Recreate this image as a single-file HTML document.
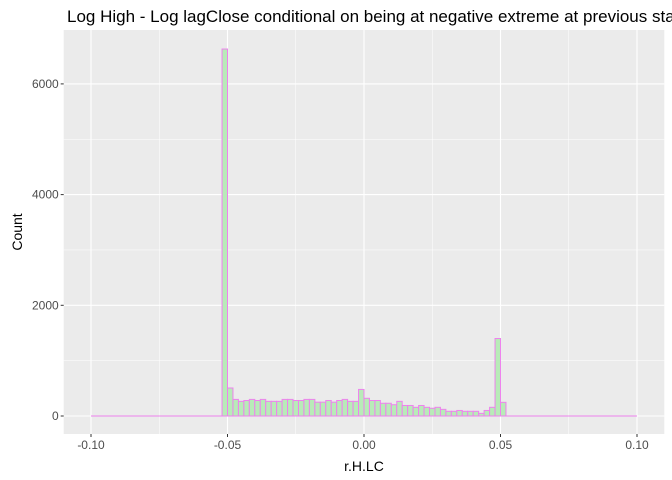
<!DOCTYPE html>
<html><head><meta charset="utf-8"><style>body{margin:0;background:#fff}svg{display:block}</style></head>
<body>
<svg id="c" width="672" height="480" xmlns="http://www.w3.org/2000/svg" font-family="Liberation Sans, sans-serif"></svg>
<script>
const binStart = -0.052;
const binWidth = 0.002;
const counts = [6630,506,300,265,280,300,280,300,265,265,265,300,300,280,280,300,300,250,250,280,250,280,300,265,265,480,
320,280,280,230,230,204,265,190,190,157,190,157,140,157,120,85,85,100,85,85,85,48,100,157,1400,247];
const xTicks = [-0.10,-0.05,0.00,0.05,0.10];
const xTickLabels = ["-0.10","-0.05","0.00","0.05","0.10"];
const xMinor = [-0.075,-0.025,0.025,0.075];
const yTicks = [0,2000,4000,6000];
const yMinor = [1000,3000,5000];
const xRange = [-0.1,0.1];

const svg=document.getElementById('c');
const NS='http://www.w3.org/2000/svg';
const P={l:63.7,r:664.3,t:30,b:434};
const xs=v=>91+(v-xRange[0])/(xRange[1]-xRange[0])*546;
const ys=v=>416-v*0.05535;
function mk(t,a,name){const e=document.createElementNS(NS,t);for(const k in a)e.setAttribute(k,a[k]);


svg.appendChild(e);return e;}
mk('rect',{x:P.l,y:P.t,width:P.r-P.l,height:P.b-P.t,fill:'#EBEBEB'},'panel-background');
xMinor.forEach(v=>mk('line',{x1:xs(v),x2:xs(v),y1:P.t,y2:P.b,stroke:'#fff','stroke-width':0.5},'x-minor-gridline'));
yMinor.forEach(v=>mk('line',{x1:P.l,x2:P.r,y1:ys(v),y2:ys(v),stroke:'#fff','stroke-width':0.5},'y-minor-gridline'));
xTicks.forEach(v=>mk('line',{x1:xs(v),x2:xs(v),y1:P.t,y2:P.b,stroke:'#fff','stroke-width':1.1},'x-major-gridline'));
yTicks.forEach(v=>mk('line',{x1:P.l,x2:P.r,y1:ys(v),y2:ys(v),stroke:'#fff','stroke-width':1.1},'y-major-gridline'));
mk('line',{x1:xs(xRange[0]),x2:xs(xRange[1]),y1:ys(0),y2:ys(0),stroke:'#EE82EE','stroke-width':1},'zero-baseline');
counts.forEach((c,i)=>{const x0=xs(binStart+i*binWidth),x1=xs(binStart+(i+1)*binWidth);
mk('rect',{x:x0,y:ys(c),width:x1-x0,height:ys(0)-ys(c),fill:'#B8EBB8',stroke:'#EE82EE','stroke-width':1},'histogram-bar');});
xTicks.forEach((v,i)=>{mk('line',{x1:xs(v),x2:xs(v),y1:P.b,y2:P.b+3,stroke:'#333','stroke-width':1},'x-tick');
const t=mk('text',{x:xs(v),y:P.b+15,'text-anchor':'middle','font-size':12,fill:'#4D4D4D'},'x-tick-label');t.textContent=xTickLabels[i];});
yTicks.forEach(v=>{mk('line',{x1:P.l-3,x2:P.l,y1:ys(v),y2:ys(v),stroke:'#333','stroke-width':1},'y-tick');
const t=mk('text',{x:P.l-5,y:ys(v)+4,'text-anchor':'end','font-size':12,fill:'#4D4D4D'},'y-tick-label');t.textContent=v;});
let t=mk('text',{x:(P.l+P.r)/2,y:471,'text-anchor':'middle','font-size':14,fill:'#000'},'x-axis-title');t.textContent='r.H.LC';
t=mk('text',{x:0,y:0,'text-anchor':'middle','font-size':14,fill:'#000',transform:`translate(22,${(P.t+P.b)/2}) rotate(-90)`},'y-axis-title');t.textContent='Count';
t=mk('text',{x:67,y:22,'font-size':17,fill:'#000'},'chart-title');t.textContent='Log High - Log lagClose conditional on being at negative extreme at previous state';
</script>
</body></html>
